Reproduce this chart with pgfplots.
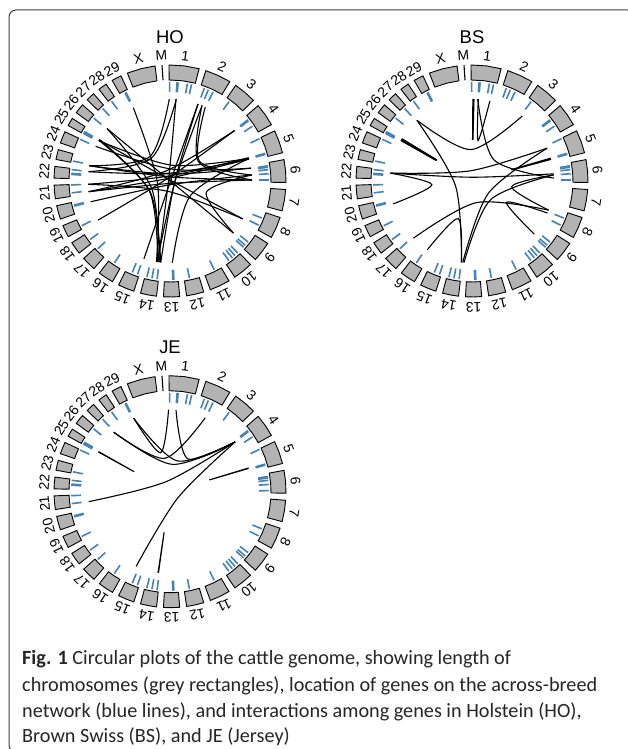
\documentclass[border=0pt]{standalone}
\usepackage{pgfplots}
\pgfplotsset{compat=1.18}
\usepackage{fontspec}
\setmainfont{Liberation Sans}
\newfontfamily\capfont{Carlito}
\definecolor{boxgray}{HTML}{B3B3B3}
\definecolor{tickblue}{HTML}{4682B4}
\pgfplotsset{
 bx/.style={draw=black, fill=boxgray, line width=0.9bp, data cs=polar, mark=none},
 tk/.style={draw=tickblue, line width=1.6bp, data cs=polar, mark=none},
 lk/.style={draw=black, line width=1.1bp, smooth, data cs=polar, mark=none},
 mk/.style={draw=black, line width=1.1bp, data cs=polar, mark=none},
 circ/.style={anchor=center, x=1bp, y=1bp, xmin=-140, xmax=140, ymin=-140, ymax=140, hide axis, clip=false},
}
\tikzset{lab/.style={font=\fontsize{14}{15}\selectfont, inner sep=0pt},
 ttl/.style={font=\fontsize{18.5}{20}\selectfont, inner sep=0pt}}
% chromosome: start angle, end angle (degrees clockwise from top), label
\newcommand\chrm[3]{%
  \pgfmathsetmacro\chA{90-(#1)}%
  \pgfmathsetmacro\chB{90-(#2)}%
  \pgfmathsetmacro\chM{90-((#1)+(#2))/2}%
  \pgfmathsetmacro\chC{((#1)+(#2))/2}%
  \pgfmathsetmacro\chX{126*sin(\chC)}%
  \pgfmathsetmacro\chY{126*cos(\chC)}%
  \edef\chtmp{\noexpand\addplot[bx] coordinates {(\chA,101) (\chM,101) (\chB,101) (\chB,116) (\chM,116) (\chA,116)} --cycle;
    \noexpand\node[lab,rotate=-\chC] at (axis cs:\chX,\chY) {#3};}%
  \chtmp}
% gene location tick
\newcommand\tk[1]{%
  \pgfmathsetmacro\tkP{90-(#1)}%
  \edef\tktmp{\noexpand\addplot[tk] coordinates {(\tkP,89) (\tkP,99)};}%
  \tktmp}
% link between two gene positions
\newcommand\lnk[2]{%
  \pgfmathsetmacro\lkd{mod((#2)-(#1)+540,360)-180}%
  \pgfmathsetmacro\lkpa{90-(#1)}%
  \pgfmathsetmacro\lkpb{90-(#2)}%
  \pgfmathsetmacro\lkpm{90-(#1)-(\lkd)/2}%
  \pgfmathsetmacro\lkrm{41*cos((\lkd)/2)}%
  \edef\lktmp{\noexpand\addplot[lk] coordinates {(\lkpa,82) (\lkpm,\lkrm) (\lkpb,82)};}%
  \lktmp}
\newcommand\ring{%
\chrm{-0.50}{14.54}{1}
\chrm{18.00}{31.02}{2}
\chrm{34.48}{46.01}{3}
\chrm{49.48}{60.95}{4}
\chrm{64.41}{75.92}{5}
\chrm{79.38}{90.73}{6}
\chrm{94.24}{104.94}{7}
\chrm{108.35}{119.12}{8}
\chrm{122.58}{132.62}{9}
\chrm{136.08}{145.99}{10}
\chrm{149.45}{159.64}{11}
\chrm{163.10}{171.76}{12}
\chrm{175.22}{183.22}{13}
\chrm{186.68}{194.72}{14}
\chrm{198.18}{206.28}{15}
\chrm{209.74}{217.50}{16}
\chrm{220.96}{228.10}{17}
\chrm{231.56}{237.83}{18}
\chrm{241.29}{247.38}{19}
\chrm{250.84}{257.68}{20}
\chrm{261.14}{267.94}{21}
\chrm{271.40}{277.23}{22}
\chrm{280.70}{285.69}{23}
\chrm{289.14}{295.10}{24}
\chrm{298.56}{302.64}{25}
\chrm{306.10}{311.01}{26}
\chrm{314.46}{318.77}{27}
\chrm{322.23}{326.63}{28}
\chrm{330.09}{334.98}{29}
\chrm{338.44}{352.58}{X}
\addplot[mk] coordinates {(93.96,101) (93.96,116)};
\node[lab,rotate=3.96] at (axis cs:-8.7,125.7) {M};
\tk{-0.2}\tk{4.1}\tk{4.7}\tk{10.1}\tk{12.6}
\tk{20.3}\tk{22.8}\tk{25.8}
\tk{36.7}
\tk{51.8}\tk{52.5}\tk{56.4}
\tk{64.7}\tk{73.8}\tk{74.4}
\tk{81.2}\tk{82.0}\tk{83.4}\tk{85.8}\tk{89.4}
\tk{112.0}\tk{116.5}
\tk{128.0}\tk{130.5}\tk{132.0}
\tk{136.8}\tk{139.0}\tk{141.0}\tk{143.5}
\tk{153.5}
\tk{168.7}
\tk{177.8}\tk{178.4}
\tk{187.5}\tk{190.5}\tk{193.5}
\tk{199.2}\tk{202.4}
\tk{214.2}
\tk{226.8}
\tk{233.8}
\tk{243.1}
\tk{255.3}\tk{255.9}
\tk{263.1}\tk{267.7}
\tk{273.8}\tk{274.4}\tk{276.6}
\tk{281.6}
\tk{294.9}
\tk{298.8}\tk{299.4}\tk{300.0}
\tk{309.5}
\tk{317.1}
\tk{323.8}
\tk{333.0}\tk{333.6}
}
\begin{document}
\begin{tikzpicture}[x=1bp,y=1bp]
\useasboundingbox (0,0) rectangle (628,749);
\fill[white] (0,0) rectangle (628,749);
\draw[black!75, line width=1bp, rounded corners=7bp] (9,-3) rectangle (634,739);

% ---------------- HO ----------------
\begin{axis}[circ, at={(170bp,568bp)}]
\ring
\node[ttl] at (axis cs:0,144) {HO};
\lnk{359.5}{280.7}
\lnk{4.4}{276.5}
\lnk{4.2}{188.5}
\lnk{333.4}{189.5}
\lnk{309.8}{129.4}
\lnk{52.0}{262.5}
\lnk{299.5}{74.0}
\lnk{300.0}{117.5}
\lnk{300.5}{188.5}
\lnk{295.0}{81.0}
\lnk{20.0}{186.5}
\lnk{23.0}{89.3}
\lnk{25.5}{85.8}
\lnk{74.5}{276.5}
\lnk{73.5}{267.7}
\lnk{81.0}{280.7}
\lnk{85.8}{255.3}
\lnk{89.3}{262.5}
\lnk{241.5}{52.0}
\lnk{198.5}{20.0}
\lnk{178.4}{74.0}
\lnk{187.5}{309.8}
\lnk{129.4}{85.8}
\lnk{117.5}{267.7}
\lnk{189.0}{23.0}
\lnk{186.5}{299.8}
\lnk{262.5}{74.5}
\lnk{280.7}{89.3}
\end{axis}

% ---------------- BS ----------------
\begin{axis}[circ, at={(472bp,568bp)}]
\ring
\node[ttl] at (axis cs:0,144) {BS};
\lnk{0.6}{0.9}
\lnk{1.1}{1.4}
\lnk{4.4}{12.6}
\lnk{4.0}{88.0}
\lnk{317.8}{37.7}
\lnk{317.8}{187.4}
\lnk{299.6}{299.9}
\lnk{300.2}{300.5}
\lnk{300.8}{301.1}
\lnk{275.5}{66.4}
\lnk{275.5}{253.8}
\lnk{73.8}{74.1}
\lnk{74.4}{74.7}
\lnk{85.7}{110.8}
\lnk{113.0}{130.5}
\lnk{213.0}{187.4}
\lnk{225.7}{110.8}
\lnk{185.6}{85.7}
\lnk{186.5}{66.4}
\lnk{275.5}{85.0}
\end{axis}

% ---------------- JE ----------------
\begin{axis}[circ, at={(170bp,257.3bp)}]
\ring
\node[ttl] at (axis cs:0,144.5) {JE};
\lnk{359.0}{333.7}
\lnk{4.2}{52.6}
\lnk{25.5}{316.6}
\lnk{316.6}{52.6}
\lnk{333.7}{52.6}
\lnk{52.6}{263.0}
\lnk{52.6}{204.4}
\lnk{188.1}{188.4}
\lnk{73.2}{73.5}
\lnk{299.0}{299.3}
\end{axis}

% ---------------- caption ----------------
\begin{scope}[every node/.style={anchor=base west, inner sep=0pt, text=black!85, font=\capfont\fontsize{20.3}{26}\selectfont}]
\node at (22,84) {\textbf{Fig. 1} Circular plots of the cattle genome, showing length of};
\node at (22,57.5) {chromosomes (grey rectangles), location of genes on the across-breed};
\node at (22,31.5) {network (blue lines), and interactions among genes in Holstein (HO),};
\node at (22,6) {Brown Swiss (BS), and JE (Jersey)};
\end{scope}
\end{tikzpicture}
\end{document}
